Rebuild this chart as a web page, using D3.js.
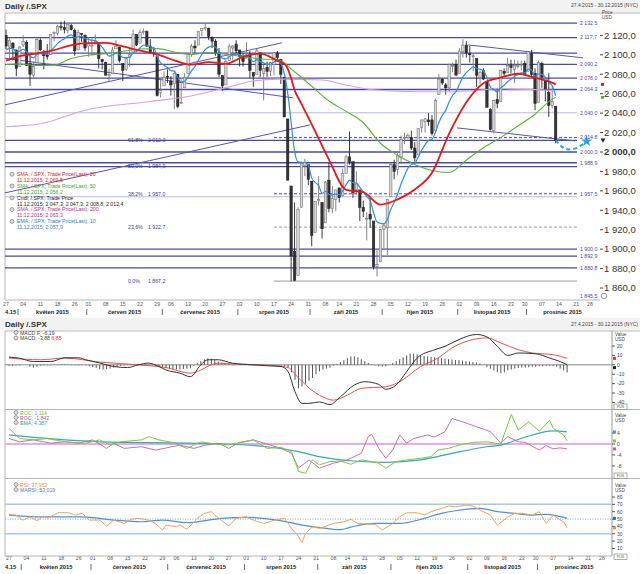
<!DOCTYPE html>
<html><head><meta charset="utf-8">
<script src="https://cdn.jsdelivr.net/npm/d3@7"></script>
<style>body{margin:0;background:#fff;} svg{display:block;font-family:"Liberation Sans",Arial,sans-serif;}</style>
</head><body><svg id="chart" width="640" height="574"></svg>
<script>
// ---------- DATA ----------
const tickIdx=[0,5,10,15,20,24,29,34,39,44,48,53,58,63,68,73,78,83,88,93,97,102,107,112,117,122,127,132,137,142,147,151,156,161,166,170];
const tickLabels=["27","04","11","18","26","01","08","15","22","29","06","13","20","27","03","10","17","24","31","08","14","21","28","05","12","19","26","02","09","16","23","30","07","14","21","28"];
const monthStart=[0,4,24,46,68,89,110,132,152];
const monthLabels=["4.15","květen 2015","červen 2015","červenec 2015","srpen 2015","září 2015","říjen 2015","listopad 2015","prosinec 2015"];
const lastSlot=173;

const open=[2120,2108,2112,2105,2088,2110,2113,2091,2079,2092,
2115,2102,2100,2100,2122,2122,2129,2128,2125,2130,
2125,2105,2122,2120,2109,2110,2111,2112,2095,2092,
2079,2081,2106,2108,2091,2085,2097,2102,2121,2112,
2123,2124,2109,2102,2098,2061,2068,2078,2073,2070,
2080,2050,2066,2081,2100,2109,2110,2125,2127,2127,
2118,2114,2102,2079,2069,2094,2107,2111,2105,2097,
2096,2100,2082,2080,2102,2081,2087,2083,2090,2102,
2095,2077,2034,1965,1898,1873,1943,1986,1987,1970,
1917,1951,1948,1927,1971,1942,1951,1963,1955,1978,
1995,1990,1961,1961,1943,1932,1936,1929,1882,1887,
1920,1922,1954,1987,1982,1994,2014,2015,2015,2004,
1997,2025,2031,2033,2033,2022,2059,2075,2069,2066,
2088,2090,2081,2103,2110,2101,2098,2096,2077,2084,
2072,2044,2022,2054,2052,2083,2082,2089,2085,2089,
2089,2091,2083,2101,2081,2051,2091,2073,2061,2048,
2047];
const high=[2126,2117,2113,2105,2109,2120,2115,2099,2093,2118,
2117,2105,2111,2121,2124,2131,2134,2135,2133,2132,
2127,2126,2122,2121,2118,2117,2121,2112,2096,2093,
2086,2108,2115,2108,2091,2098,2107,2126,2121,2126,
2127,2125,2116,2108,2098,2074,2083,2085,2078,2083,
2080,2075,2081,2100,2111,2115,2124,2127,2133,2128,
2119,2116,2107,2079,2095,2111,2110,2115,2105,2102,
2113,2104,2082,2106,2102,2090,2093,2093,2103,2104,
2096,2077,2034,1965,1948,1943,1990,1993,1987,1970,
1949,1975,1948,1970,1989,1965,1961,1963,1983,1997,
2021,1990,1980,1961,1950,1938,1953,1929,1899,1921,
1927,1951,1989,1992,1999,2017,2020,2019,2022,2010,
2024,2033,2035,2040,2038,2055,2080,2076,2071,2091,
2092,2095,2107,2116,2114,2109,2101,2096,2084,2086,
2073,2045,2054,2066,2084,2086,2097,2095,2095,2094,
2094,2094,2103,2105,2086,2094,2093,2073,2081,2068,
2047];
const low=[2106,2094,2094,2078,2088,2108,2089,2068,2075,2092,
2104,2085,2095,2100,2114,2120,2125,2122,2122,2125,
2099,2105,2113,2104,2098,2099,2111,2086,2085,2079,
2072,2081,2106,2092,2073,2083,2088,2102,2109,2112,
2121,2108,2102,2098,2057,2056,2068,2071,2058,2044,
2045,2050,2066,2081,2098,2102,2110,2119,2125,2115,
2107,2099,2077,2063,2069,2094,2094,2102,2088,2088,
2096,2076,2067,2080,2077,2053,2077,2078,2079,2094,
2070,2036,1971,1867,1867,1873,1943,1975,1966,1903,
1917,1945,1911,1927,1938,1937,1939,1948,1954,1978,
1987,1953,1956,1929,1933,1909,1922,1879,1872,1887,
1901,1894,1954,1972,1976,1988,2008,2013,2002,1990,
1997,2020,2020,2027,2017,2022,2059,2069,2059,2062,
2082,2079,2081,2097,2097,2092,2083,2067,2070,2074,
2046,2022,2019,2045,2052,2078,2082,2081,2071,2086,
2084,2080,2083,2077,2043,2051,2066,2052,2036,2045,
2009];
const close=[2109,2115,2107,2086,2108,2114,2089,2080,2088,2116,
2105,2099,2098,2121,2123,2129,2128,2126,2131,2126,
2104,2123,2121,2107,2112,2110,2114,2096,2093,2079,
2080,2105,2109,2094,2084,2096,2100,2121,2110,2123,
2124,2109,2102,2101,2058,2063,2077,2077,2069,2081,
2047,2051,2077,2100,2109,2107,2124,2127,2128,2119,
2114,2102,2080,2068,2093,2109,2109,2104,2098,2093,
2100,2084,2078,2104,2084,2086,2083,2092,2102,2097,
2080,2036,1971,1893,1868,1941,1988,1989,1972,1914,
1949,1951,1921,1969,1942,1952,1961,1953,1978,1995,
1990,1958,1967,1943,1939,1932,1931,1882,1884,1920,
1924,1951,1987,1980,1996,2013,2015,2017,2004,1994,
2024,2033,2034,2031,2019,2053,2075,2071,2066,2090,
2089,2079,2104,2110,2102,2100,2099,2079,2082,2075,
2046,2023,2053,2050,2084,2081,2089,2087,2089,2089,
2090,2080,2103,2080,2050,2092,2077,2064,2048,2052,
2012];

const ema10=[2104.9,2106.7,2106.7,2102.8,2103.8,2105.7,2102.8,2098.7,2096.8,2100.3,
2101.2,2100.8,2100.4,2104.2,2107.6,2111.5,2114.5,2116.6,2119.2,2120.5,
2117.5,2118.6,2119.0,2116.9,2116.0,2114.8,2114.7,2111.3,2107.9,2102.7,
2098.6,2099.8,2101.5,2100.2,2097.3,2097.1,2097.7,2102.0,2103.5,2107.0,
2110.1,2109.8,2108.4,2107.1,2098.1,2091.7,2089.1,2086.9,2083.6,2083.2,
2076.6,2072.0,2072.8,2077.7,2083.4,2087.8,2094.4,2100.3,2105.4,2107.9,
2109.0,2107.8,2102.7,2096.3,2095.8,2098.1,2100.0,2100.7,2100.2,2098.9,
2099.1,2096.3,2092.9,2095.0,2093.0,2091.7,2090.2,2090.4,2092.6,2093.4,
2090.9,2080.9,2060.9,2030.4,2000.8,1989.8,1989.4,1989.4,1986.3,1973.1,
1968.7,1965.5,1957.4,1959.6,1956.4,1955.7,1956.7,1956.0,1960.0,1966.4,
1970.7,1968.4,1968.1,1963.5,1959.0,1954.1,1950.0,1937.6,1927.9,1926.5,
1926.0,1930.6,1940.9,1948.0,1956.7,1967.0,1975.7,1983.3,1987.0,1988.3,
1994.8,2001.8,2007.6,2011.8,2013.1,2020.3,2030.3,2037.7,2042.8,2051.5,
2058.4,2062.2,2069.8,2077.1,2081.7,2085.0,2087.6,2086.0,2085.2,2083.3,
2076.5,2066.8,2064.3,2061.8,2065.8,2068.6,2072.3,2074.9,2077.5,2079.6,
2081.5,2081.3,2085.2,2084.2,2077.9,2080.4,2079.8,2076.9,2071.6,2068.1,
2057.9];
const sma20Idx=[0,4,9,14,19,24,29,34,39,44,49,54,59,64,69,74,79,81,82,83,84,86,89,94,99,104,109,114,119,124,129,134,139,144,149,154,159,160];
const sma20Val=[2094,2098.7,2101.5,2104.8,2110.0,2112.1,2112.3,2108.6,2104.2,2100.5,2094.3,2089.8,2092.5,2090.7,2097.9,2101.3,2094.0,2090.7,2085.8,2075.8,2063.7,2049.5,2028.5,1992.2,1961.1,1958.6,1945.9,1951.2,1961.4,1978.6,2018.9,2051.2,2070.8,2076.5,2080.5,2076.4,2071.3,2069.6];
const sma50Idx=[0,4,9,14,19,24,29,34,39,44,49,54,59,64,69,74,79,84,89,94,99,104,109,114,119,124,129,134,139,144,149,154,159,160];
const sma50Val=[2090,2090.5,2089.1,2089.4,2096.2,2099.6,2101.0,2103.6,2106.0,2106.3,2102.9,2100.1,2102.4,2100.6,2098.1,2095.7,2095.1,2082.6,2067.6,2052.4,2041.8,2030.1,2009.0,1996.6,1987.2,1981.0,1978.9,1991.7,2004.3,2014.8,2026.7,2038.8,2054.4,2056.2];
const sma200Idx=[0,10,23,42,53,65,72,79,92,99,107,120,130,145,160];
const sma200Val=[2026,2029,2043,2052,2057,2067,2073,2075,2074,2069,2064,2062,2062,2065,2063.3];
const projIdx=[160,162,164,166,168];
const projVal=[2012,2005,2002.5,2004,2008];
const projMark=[169,2011];

// horizontal levels
const hLevels=[2132.5,2117.7,2101.7,2090.2,2076.0,2064.3,2040.3,2012.0,2000.0,1988.9,1984.9,1954.0,1900.0,1892.9,1880.8];
const hLabels=["2 132,5","2 117,7","","2 090,2","2 076,0","2 064,3","2 040,0","","2 000,0","1 988,9","","","1 900,0","1 892,9","1 880,8"];
const hLight=[false,false,false,false,false,false,true,false,false,false,false,true,false,false,false];
const dashLevels=[2014.8,1957.0,1922.7];
const dashLabels=["2 014,8","1 957,5",""];
const dashGray=[false,false,true];
const fibPct=["61,8%","50,0%","38,2%","23,6%","0,0%"];
const fibVal=[2012.0,1984.9,1957.0,1922.7,1867.2];
// trend lines [idx0,val0,idx1,val1]
const trendLines=[[-1,2096.8,83.6,2055.7],[-0.3,2048.5,80.3,2112.3],[-0.3,1957.9,88.5,2027.9],[134.5,2110.2,168,2096.8],[131.3,2024.8,165.6,2011.4]];
const priceTicks=[1860,1880,1900,1920,1940,1960,1980,2000,2020,2040,2060,2080,2100,2120];

// MACD
const macdIdx=[0,3,7,12,16,20,22,26,30,34,37,40,43,45,49,52,55,57,60,64,70,74,78,80,82,84,86,89,92,95,99,102,106,108,111,114,117,122,125,129,134,137,140,143,146,151,155,158,160];
const macdVal=[8.3,7,3.5,3.5,7.5,7.5,5.4,2,-1.8,-2.9,0,1.8,-1.8,-5.4,-8.9,-12.6,0,5.4,5.4,1.8,0,-1,-1.8,-7.2,-28.7,-41,-41,-39.5,-42.3,-34,-21.5,-18,-20.8,-26,-21.5,-7.2,7.2,16,19.7,26.9,32.3,29.8,19.7,10,12.6,11.8,7.2,3.5,0.3];
const sigIdx=[0,9,16,26,37,45,52,60,64,77,80,83,86,89,93,97,101,108,112,118,123,127,133,137,141,146,150,156,160];
const sigVal=[7.2,5.4,7.2,2.9,0,-2.9,-8.9,1.8,1,-1,-2.9,-14,-24.7,-32.3,-37.6,-32.3,-25,-23.3,-18,-1.8,7.2,18,26.9,28.7,23.3,16.1,12.6,10.8,6.9];
const macdHist=[-1,-1,-0.5,-0.5,0,0,-2,-3,-2,-1,
-0.5,-0.5,-0.3,0.3,0.3,0.5,0.5,0.3,-0.3,-0.5,
-0.5,-0.3,-0.5,-1.5,-2.5,-3.5,-4.5,-5,-4.5,-4,
-3,-2,-1,-0.5,0.5,0.5,1,1,0.5,0.5,
0.3,-0.5,-1,-2,-3,-3.5,-4,-4.5,-5,-5,
-4.5,-4,-3.5,-1,2,4,6,7,6.5,5,
3.5,2,1,0.5,0.3,-0.3,0.3,0.5,0.3,-0.3,
-0.5,0.3,0.5,0.3,-0.3,-0.5,-0.5,-0.3,-0.5,-1,
-3,-8,-16,-25,-23,-20,-17,-14,-10,-7,
-5,-4,-3,-1,1,3,5,7,9,9,
8,6,4,2,0.5,-0.5,-1.5,-2,-1.5,0,
2,4,6,8,10,12,12,11,10,9.5,
9,8.5,8,7.5,7,6.5,6,5.5,5,5,
4.5,4,3.5,3,2.5,1.5,0,-2,-4,-6,
-8,-9,-8,-6,-5,-4,-3.5,-3,-3,-2.5,
-2,-2,-1.5,-1.5,-1,-1,-1,-2,-4,-6,
-8];
const macdTicks=[20,10,0,-10,-20,-30,-40];

// ROC panel
const rocAIdx=[0,1,3,7,11,16,22,26,29,32,38,40,43,47,51,55,58,62,66,70,74,78,81,83,85,87,89,92,95,98,101,104,106,108,111,114,118,121,123,126,129,133,137,141,144,146,149,152,155,156,159,160];
const rocAVal=[5.7,4.5,2,1.5,2,0.8,0.3,1.5,-0.4,0.8,1.5,2.7,1.5,0.5,-1.6,0.8,0.2,-0.4,0.3,1.5,-1.6,-1.2,-2.8,-10,-10.7,-5.8,-7.6,-6.4,-6.2,-7.4,-5.8,-6.4,-7,-8.8,-6.4,-5.8,-5.2,-4.6,-2.2,-1.6,-0.4,0.6,0.8,0,10.8,5.1,8.1,4.7,8.7,5.7,3.3,1.1];
const rocBIdx=[0,3,7,12,16,20,24,28,30,33,38,42,46,49,53,56,60,63,66,70,74,78,81,83,86,89,93,97,101,103,104,106,108,110,112,114,116,120,122,125,127,130,134,138,141,143,146,148,152,154,156,158,160];
const rocBVal=[2,0.8,1.5,0.3,0.8,0.3,1.5,-1.6,0.3,-1.6,-1,-2.2,-1.2,-0.4,-1.6,-0.5,0.3,-1.6,0.6,1.5,0,-1.6,-3.4,-8.8,-5.8,-8.8,-7,-5.8,-3.4,2.7,3.5,-1.6,-5.2,-2.2,3.3,0.3,2,3.3,2.5,4.5,9.3,8.1,6.3,4.5,0.3,2.7,0.8,0.6,-2.2,-0.6,-1.8,-1.4,-1.8];
const rocEIdx=[0,26,55,74,83,89,99,108,118,127,137,141,147,156,160];
const rocEVal=[3.3,0.8,0.25,-1,-2.8,-4.6,-6.2,-6.7,-5.8,-3.4,-1,-0.4,2.1,4.8,4.4];
const rocTicks=[4,0,-4,-8];

// RSI panel
const rsiIdx=[0,2,4,6,8,10,11,14,17,19,21,23,26,28,30,33,35,37,40,42,44,45,48,49,51,54,56,58,59,63,65,68,70,73,77,79,81,83,84,85,87,89,91,93,96,98,100,103,105,107,110,112,114,117,119,121,124,126,128,131,133,135,138,140,143,145,147,150,152,154,156,158,159,160];
const rsiVal=[56.4,55.4,48.6,53,47.7,54,51,58.6,58.6,55.4,57.8,48.6,48.6,40.5,48.6,44,49.6,51,48.6,44,35,41.8,39.5,41.8,36,51,57.8,60,55.4,40.5,51,53,48.6,44,49.6,51,37.3,26,17.8,30.5,39.5,37.3,40.5,44,46.3,49.6,44,43.2,42.8,35,44,53,58.6,58.6,55.4,60,64.6,67.7,66.7,69,67.7,62.2,55.4,41.8,53,57.8,57.8,55.4,60,44,55.4,48.6,46.3,38];
const marsiIdx=[0,9,21,30,38,44,51,61,68,77,84,91,95,98,105,112,119,124,128,135,140,145,150,154,160];
const marsiVal=[55.4,53,53,48.6,46.3,48.6,45,51,52.3,48.6,41.8,37.3,35.5,39,44,44,51,57.8,61.3,64.6,60,57.8,55.4,56.4,51];
const rsiTicks=[80,70,60,50,40,30,20,10];
const rsiLevels=[70,30];

// ---------- DRAW ----------
const svg=d3.select("#chart");
const FONT="Liberation Sans, Arial, sans-serif";
svg.append("rect").attr("width",640).attr("height",574).attr("fill","#fff");
svg.append("rect").attr("x",0).attr("y",0).attr("width",640).attr("height",12).attr("fill","#f2f2f2");
svg.append("rect").attr("x",0).attr("y",318).attr("width",640).attr("height",12).attr("fill","#f2f2f2");

const xM=d3.scaleLinear().domain([0,170]).range([6,590]);
const xL=d3.scaleLinear().domain([0,170]).range([9,602]);
const yP=d3.scaleLinear().domain([1847.7,2143]).range([300,13]);
const yMacd=d3.scaleLinear().domain([-47,36]).range([409,331]);
const yRoc=d3.scaleLinear().domain([-12.4,12.4]).range([478,410]);
const yRsi=d3.scaleLinear().domain([0,100]).range([555.8,482.3]);

function txt(g,x,y,s,size,fill,opts={}){
  const t=g.append("text").attr("x",x).attr("y",y).text(s).attr("font-size",size).attr("fill",fill).attr("font-family",FONT);
  if(opts.anchor) t.attr("text-anchor",opts.anchor);
  if(opts.bold) t.attr("font-weight","bold");
  return t;
}
const fmtCz=v=>{const s=v.toFixed(1);const [a,b]=s.split(".");const neg=a.startsWith("-");const n=neg?a.slice(1):a;const i=n.length>3?n.slice(0,n.length-3)+" "+n.slice(-3):n;return (neg?"-":"")+i+","+b;};

// titles
txt(svg,5,9,"Daily /.SPX",8,"#333",{bold:true});
txt(svg,638,6.5,"27.4.2015 - 30.12.2015 (NYC)",5,"#444",{anchor:"end"});
txt(svg,5,327,"Daily /.SPX",8,"#333",{bold:true});
txt(svg,638,326,"27.4.2015 - 30.12.2015 (NYC)",5,"#444",{anchor:"end"});

// main frame
const frame=svg.append("g").attr("stroke","#b5b5b5").attr("stroke-width",1);
frame.append("line").attr("x1",5).attr("x2",640).attr("y1",13).attr("y2",13);
frame.append("line").attr("x1",5).attr("x2",5).attr("y1",13).attr("y2",300);
frame.append("line").attr("x1",5).attr("x2",600).attr("y1",300).attr("y2",300);

svg.append("clipPath").attr("id","clipMain").append("rect").attr("x",5).attr("y",13).attr("width",595).attr("height",287);
const gm=svg.append("g").attr("clip-path","url(#clipMain)");

// horizontal levels
const lineEnd=577;
hLevels.forEach((v,i)=>{
  gm.append("line").attr("x1",5).attr("x2",lineEnd).attr("y1",yP(v)).attr("y2",yP(v))
    .attr("stroke",hLight[i]?"#b9b9e2":"#4a4aa8").attr("stroke-width",hLight[i]?1.1:1.3);
  if(hLabels[i]) txt(svg,580,yP(v)+1.8,hLabels[i],5.2,"#4a4aa8");
});
dashLevels.forEach((v,i)=>{
  gm.append("line").attr("x1",xM(78)).attr("x2",lineEnd).attr("y1",yP(v)).attr("y2",yP(v))
    .attr("stroke",dashGray[i]?"#9a9a9a":"#4a4aa8").attr("stroke-width",1).attr("stroke-dasharray","3,2");
  if(dashLabels[i]) txt(svg,580,yP(v)+1.8,dashLabels[i],5.2,"#4a4aa8");
});
gm.append("line").attr("x1",xM(78)).attr("x2",lineEnd).attr("y1",yP(1867.2)).attr("y2",yP(1867.2)).attr("stroke","#b0b0b0").attr("stroke-width",1.2);
txt(svg,580,298,"1 845,5",5.2,"#4a4aa8");
fibPct.forEach((p,i)=>{
  txt(gm,128,yP(fibVal[i])+1.8,p,5.2,"#3b3b99");
  txt(gm,148,yP(fibVal[i])+1.8,fmtCz(fibVal[i]),5.2,"#3b3b99");
});

// trend lines
trendLines.forEach(t=>{
  gm.append("line").attr("x1",xM(t[0])).attr("y1",yP(t[1])).attr("x2",xM(t[2])).attr("y2",yP(t[3]))
    .attr("stroke","#5656b4").attr("stroke-width",1);
});

// candles
const bw=2.4;
close.forEach((c,i)=>{
  const o=open[i],up=c>=o,x=xM(i);
  gm.append("line").attr("x1",x).attr("x2",x).attr("y1",yP(high[i])).attr("y2",yP(low[i]))
    .attr("stroke",up?"#777":"#222").attr("stroke-width",0.9);
  const y0=yP(Math.max(o,c)),h=Math.max(1,Math.abs(yP(o)-yP(c)));
  gm.append("rect").attr("x",x-bw/2).attr("y",y0).attr("width",bw).attr("height",h)
    .attr("fill",up?"#d6d6d6":"#333").attr("stroke",up?"#666":"#1a1a1a").attr("stroke-width",0.5);
});

// moving averages
function series(idx,val){return idx.map((d,i)=>[d,val[i]]);}
const lineM=d3.line().x(d=>xM(d[0])).y(d=>yP(d[1]));
gm.append("path").datum(series(sma200Idx,sma200Val)).attr("d",lineM.curve(d3.curveMonotoneX)).attr("fill","none").attr("stroke","#d4a4d2").attr("stroke-width",1.1);
gm.append("path").datum(series(sma50Idx,sma50Val)).attr("d",lineM.curve(d3.curveMonotoneX)).attr("fill","none").attr("stroke","#5cb032").attr("stroke-width",1.1);
gm.append("path").datum(ema10.map((v,i)=>[i,v])).attr("d",lineM.curve(d3.curveMonotoneX)).attr("fill","none").attr("stroke","#2f8fe0").attr("stroke-width",1.2);
gm.append("path").datum(series(sma20Idx,sma20Val)).attr("d",lineM.curve(d3.curveMonotoneX)).attr("fill","none").attr("stroke","#e81818").attr("stroke-width",1.8);
// projection
gm.append("path").datum(series(projIdx,projVal)).attr("d",lineM.curve(d3.curveMonotoneX)).attr("fill","none").attr("stroke","#2aa4e0").attr("stroke-width",2).attr("stroke-dasharray","4,3");
gm.append("path").attr("d",d3.symbol(d3.symbolStar,40)()).attr("transform",`translate(${xM(projMark[0])},${yP(projMark[1])})`).attr("fill","#2aa4e0");

// price axis
priceTicks.forEach(v=>{
  svg.append("line").attr("x1",600).attr("x2",603).attr("y1",yP(v)).attr("y2",yP(v)).attr("stroke","#444");
  txt(svg,604,yP(v)+3.3,fmtCz(v),9.5,"#333",{bold:v===2000});
});
txt(svg,602,13.5,"Price",4.6,"#444");
txt(svg,602,19,"USD",4.6,"#444");
svg.append("rect").attr("x",601).attr("y",yP(2069.5)-1.5).attr("width",3).attr("height",3).attr("fill","#e81818");
svg.append("rect").attr("x",601).attr("y",yP(2056.2)-1.5).attr("width",3).attr("height",3).attr("fill","#5cb032");
svg.append("path").attr("d",d3.symbol(d3.symbolTriangle,10)()).attr("transform",`translate(603,${yP(2012.4)}) rotate(180)`).attr("fill","#222");
svg.append("circle").attr("cx",604).attr("cy",296).attr("r",2.8).attr("fill","none").attr("stroke","#777").attr("stroke-width",0.8);

// legend main
const legRows=[
 ["SMA; /.SPX; Trade Price(Last); 20","#e02020",true],["11.12.2015; 2 069,5","#e02020",false],
 ["SMA; /.SPX; Trade Price(Last); 50","#46a32e",true],["11.12.2015; 2 056,2","#46a32e",false],
 ["Cndl; /.SPX; Trade Price","#222",true],["11.12.2015; 2 047,3; 2 047,3; 2 008,8; 2 012,4","#222",false],
 ["SMA; /.SPX; Trade Price(Last); 200","#b03090",true],["11.12.2015; 2 063,3","#b03090",false],
 ["EMA; /.SPX; Trade Price(Last); 10","#2a80d0",true],["11.12.2015; 2 057,9","#2a80d0",false]];
legRows.forEach((r,i)=>{
  const y=176+i*5.9;
  if(r[2]) svg.append("circle").attr("cx",12).attr("cy",y-1.8).attr("r",2).attr("fill","#ddd").attr("stroke","#666").attr("stroke-width",0.6);
  txt(svg,17,y,r[0],5.2,r[1]);
});

// x axes
function xAxis(x,yT,yM){
  tickIdx.forEach((d,i)=>txt(svg,x(d),yT,tickLabels[i],5.2,"#555",{anchor:"middle"}));
  monthStart.forEach((s,k)=>{
    const e=(k+1<monthStart.length?monthStart[k+1]:lastSlot)-1;
    if(k===0){txt(svg,5,yM,monthLabels[0],5.8,"#222",{bold:true});}
    else{
      txt(svg,(x(s)+x(e))/2,yM,monthLabels[k],5.8,"#222",{bold:true,anchor:"middle"});
      const xs=x(s-0.5);
      svg.append("line").attr("x1",xs).attr("x2",xs).attr("y1",yM-5).attr("y2",yM+1).attr("stroke","#444").attr("stroke-width",0.8);
    }
  });
}
xAxis(xM,305.5,314);
xAxis(xL,560,569);

// lower frames
const lf=svg.append("g").attr("stroke","#b5b5b5").attr("stroke-width",1);
[331,409.5,478.5].forEach(y=>lf.append("line").attr("x1",5).attr("x2",640).attr("y1",y).attr("y2",y));
lf.append("line").attr("x1",5).attr("x2",612).attr("y1",556).attr("y2",556);
lf.append("line").attr("x1",5).attr("x2",5).attr("y1",331).attr("y2",556);
lf.append("line").attr("x1",612).attr("x2",612).attr("y1",331).attr("y2",556).attr("stroke","#999");
svg.append("clipPath").attr("id","clipLow").append("rect").attr("x",5).attr("y",331).attr("width",607).attr("height",225);
const gl=svg.append("g").attr("clip-path","url(#clipLow)");

function rightAxis(ticks,y,yHead){
  txt(svg,615,yHead,"Value",4.6,"#444");txt(svg,615,yHead+5,"USD",4.6,"#444");
  ticks.forEach(v=>{
    svg.append("line").attr("x1",612).attr("x2",615).attr("y1",y(v)).attr("y2",y(v)).attr("stroke","#555");
    txt(svg,617,y(v)+1.8,String(v),5,"#444");
  });
}
function boxIcon(y){svg.append("rect").attr("x",614).attr("y",y-3).attr("width",13).attr("height",5.5).attr("fill","#fff").attr("stroke","#777").attr("stroke-width",0.6);
  txt(svg,620.5,y+1.3,"PUS",3.6,"#555",{anchor:"middle"});}

// MACD
gl.append("line").attr("x1",5).attr("x2",612).attr("y1",yMacd(0)).attr("y2",yMacd(0)).attr("stroke","#888").attr("stroke-width",1);
macdHist.forEach((v,i)=>{
  gl.append("line").attr("x1",xL(i)).attr("x2",xL(i)).attr("y1",yMacd(0)).attr("y2",yMacd(v)).attr("stroke","#555").attr("stroke-width",1);
});
const lineL=(y,curve)=>d3.line().x(d=>xL(d[0])).y(d=>y(d[1])).curve(curve);
gl.append("path").datum(series(sigIdx,sigVal)).attr("d",lineL(yMacd,d3.curveMonotoneX)).attr("fill","none").attr("stroke","#ee5050").attr("stroke-width",1);
gl.append("path").datum(series(macdIdx,macdVal)).attr("d",lineL(yMacd,d3.curveMonotoneX)).attr("fill","none").attr("stroke","#333").attr("stroke-width",1);
rightAxis(macdTicks,yMacd,336);
svg.append("rect").attr("x",613).attr("y",yMacd(6.9)-1.5).attr("width",3).attr("height",3).attr("fill","#ee3030");
svg.append("rect").attr("x",613).attr("y",yMacd(-3)-1.5).attr("width",3).attr("height",3).attr("fill","#222");
boxIcon(407);
svg.append("circle").attr("cx",16).attr("cy",332.5).attr("r",2).attr("fill","#ddd").attr("stroke","#666").attr("stroke-width",0.6);
svg.append("circle").attr("cx",16).attr("cy",338).attr("r",2).attr("fill","#ddd").attr("stroke","#666").attr("stroke-width",0.6);
txt(svg,20,334.5,"MACD F; -6,19",5.2,"#444");
const t2=txt(svg,20,340,"MACD; -3,88  ",5.2,"#444");
t2.append("tspan").attr("fill","#ee3030").text("6,85");

// ROC
gl.append("line").attr("x1",5).attr("x2",612).attr("y1",yRoc(0)).attr("y2",yRoc(0)).attr("stroke","#e3b0e3").attr("stroke-width",2);
gl.append("path").datum(series(rocEIdx,rocEVal)).attr("d",lineL(yRoc,d3.curveMonotoneX)).attr("fill","none").attr("stroke","#3aa6b8").attr("stroke-width",1.2);
gl.append("path").datum(series(rocBIdx,rocBVal)).attr("d",lineL(yRoc,d3.curveLinear)).attr("fill","none").attr("stroke","#c060a8").attr("stroke-width",0.9);
gl.append("path").datum(series(rocAIdx,rocAVal)).attr("d",lineL(yRoc,d3.curveLinear)).attr("fill","none").attr("stroke","#7cc840").attr("stroke-width",1);
rightAxis(rocTicks,yRoc,417);
svg.append("rect").attr("x",613).attr("y",yRoc(4.4)-1.5).attr("width",3).attr("height",3).attr("fill","#3aa6b8");
svg.append("rect").attr("x",613).attr("y",yRoc(1.1)-1.5).attr("width",3).attr("height",3).attr("fill","#7cc840");
svg.append("rect").attr("x",613).attr("y",yRoc(-1.8)-1.5).attr("width",3).attr("height",3).attr("fill","#c060a8");
boxIcon(476);
[["ROC; 1,114","#6cb830"],["ROC; -1,842","#b050a0"],["EMA; 4,387","#2f98aa"]].forEach((r,i)=>{
  svg.append("circle").attr("cx",16).attr("cy",412.5+i*5).attr("r",2).attr("fill","#ddd").attr("stroke","#666").attr("stroke-width",0.6);
  txt(svg,20,414.5+i*5,r[0],5.2,r[1]);
});

// RSI
rsiLevels.forEach(v=>gl.append("line").attr("x1",5).attr("x2",612).attr("y1",yRsi(v)).attr("y2",yRsi(v)).attr("stroke","#a9c6ee").attr("stroke-width",1.5));
gl.append("line").attr("x1",5).attr("x2",612).attr("y1",yRsi(50)).attr("y2",yRsi(50)).attr("stroke","#5b8fd6").attr("stroke-width",0.8).attr("stroke-dasharray","1,1.5");
gl.append("path").datum(series(marsiIdx,marsiVal)).attr("d",lineL(yRsi,d3.curveMonotoneX)).attr("fill","none").attr("stroke","#4f8fd8").attr("stroke-width",1.2);
gl.append("path").datum(series(rsiIdx,rsiVal)).attr("d",lineL(yRsi,d3.curveLinear)).attr("fill","none").attr("stroke","#f2a453").attr("stroke-width",1);
rightAxis(rsiTicks,yRsi,487);
svg.append("rect").attr("x",613).attr("y",yRsi(51)-1.5).attr("width",3).attr("height",3).attr("fill","#2f6fd0");
svg.append("rect").attr("x",613).attr("y",yRsi(38)-1.5).attr("width",3).attr("height",3).attr("fill","#f09030");
boxIcon(557);
[["RSI; 37,952","#f09030"],["MARSI; 53,019","#3f7fd0"]].forEach((r,i)=>{
  svg.append("circle").attr("cx",16).attr("cy",484.5+i*5).attr("r",2).attr("fill","#ddd").attr("stroke","#666").attr("stroke-width",0.6);
  txt(svg,20,486.5+i*5,r[0],5.2,r[1]);
});
</script></body></html>
